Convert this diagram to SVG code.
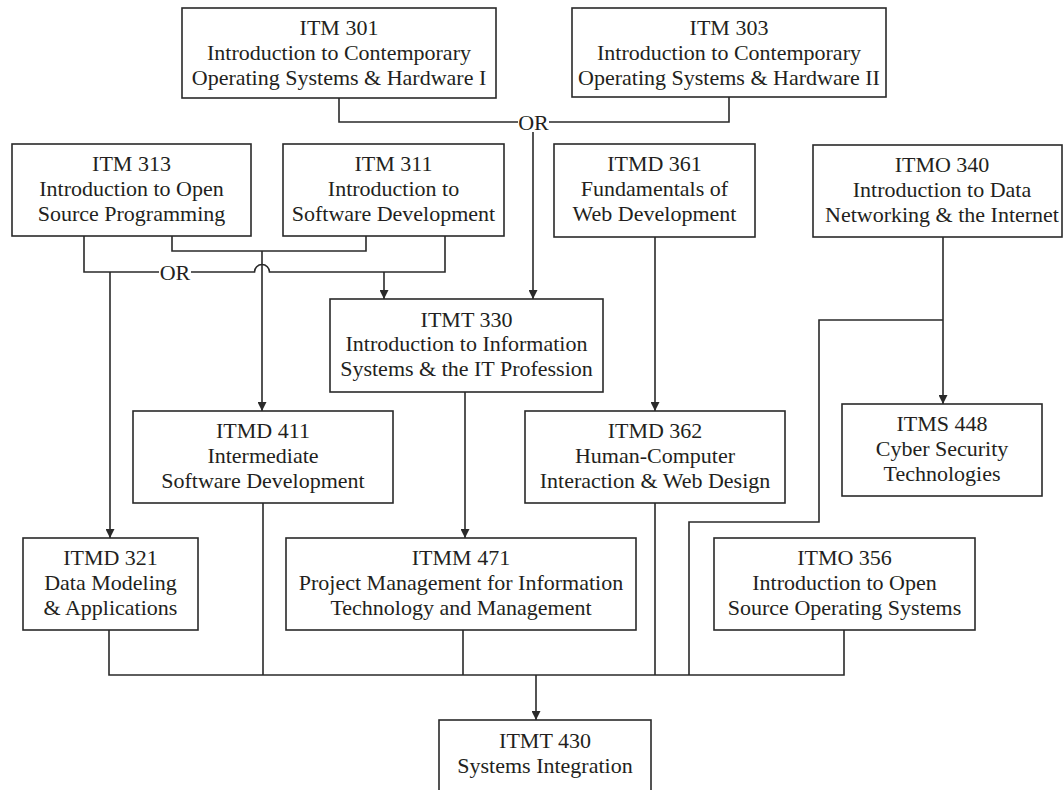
<svg xmlns="http://www.w3.org/2000/svg" width="1064" height="790" viewBox="0 0 1064 790">
<style>
.box{fill:#fff;stroke:#2a2a2a;stroke-width:1.6}
.t{font-family:"Liberation Serif","Times New Roman",serif;font-size:22px;fill:#231f20;text-anchor:middle}
.ln{fill:none;stroke:#2a2a2a;stroke-width:1.6}
</style>
<defs>
<marker id="ah" viewBox="0 0 10 10" refX="10" refY="5" markerWidth="9" markerHeight="9" markerUnits="userSpaceOnUse" orient="auto">
<path d="M0,0 L10,5 L0,10 z" fill="#2a2a2a"/>
</marker>
</defs>
<rect width="1064" height="790" fill="#fff"/>

<g id="connectors">
<path class="ln" d="M339,98 V122 H518 M549,122 H729 V97"/>
<path class="ln" d="M533,132 V299" marker-end="url(#ah)"/>
<path class="ln" d="M84,236 V272 H159 M191,272 H254.5 A7.5,7.5 0 0 1 269.5,272 H445 V236"/>
<path class="ln" d="M110,272 V538" marker-end="url(#ah)"/>
<path class="ln" d="M384,272 V299" marker-end="url(#ah)"/>
<path class="ln" d="M172,236 V251 H366 V236"/>
<path class="ln" d="M262,251 V411" marker-end="url(#ah)"/>
<path class="ln" d="M655,237 V411" marker-end="url(#ah)"/>
<path class="ln" d="M943,237 V404" marker-end="url(#ah)"/>
<path class="ln" d="M943,320 H819 V522 H689 V675"/>
<path class="ln" d="M465,392 V538" marker-end="url(#ah)"/>
<path class="ln" d="M109,630 V675 H844 V630 M263,496 V675 M463,630 V675 M655,503 V675"/>
<path class="ln" d="M536,675 V720" marker-end="url(#ah)"/>
<text class="t" x="533.5" y="130">OR</text>
<text class="t" x="175" y="280">OR</text>
</g>

<g id="itm301">
<rect class="box" x="182" y="8" width="314" height="90"/>
<text class="t" x="339" y="35">ITM 301</text>
<text class="t" x="339" y="60">Introduction to Contemporary</text>
<text class="t" x="339" y="85">Operating Systems &amp; Hardware I</text>
</g>
<g id="itm303">
<rect class="box" x="572" y="8" width="314" height="89"/>
<text class="t" x="729" y="35">ITM 303</text>
<text class="t" x="729" y="60">Introduction to Contemporary</text>
<text class="t" x="729" y="85">Operating Systems &amp; Hardware II</text>
</g>
<g id="itm313">
<rect class="box" x="12" y="144" width="239" height="92"/>
<text class="t" x="131.5" y="171">ITM 313</text>
<text class="t" x="131.5" y="196">Introduction to Open</text>
<text class="t" x="131.5" y="221">Source Programming</text>
</g>
<g id="itm311">
<rect class="box" x="283" y="144" width="221" height="92"/>
<text class="t" x="393.5" y="171">ITM 311</text>
<text class="t" x="393.5" y="196">Introduction to</text>
<text class="t" x="393.5" y="221">Software Development</text>
</g>
<g id="itmd361">
<rect class="box" x="554" y="144" width="201" height="93"/>
<text class="t" x="654.5" y="171">ITMD 361</text>
<text class="t" x="654.5" y="196">Fundamentals of</text>
<text class="t" x="654.5" y="221">Web Development</text>
</g>
<g id="itmo340">
<rect class="box" x="813" y="145" width="249" height="92"/>
<text class="t" x="942" y="172">ITMO 340</text>
<text class="t" x="942" y="197">Introduction to Data</text>
<text class="t" x="942" y="222">Networking &amp; the Internet</text>
</g>
<g id="itmt330">
<rect class="box" x="330" y="299" width="273" height="93"/>
<text class="t" x="466.5" y="327">ITMT 330</text>
<text class="t" x="466.5" y="351">Introduction to Information</text>
<text class="t" x="466.5" y="376">Systems &amp; the IT Profession</text>
</g>
<g id="itmd411">
<rect class="box" x="133" y="411" width="260" height="92"/>
<text class="t" x="263" y="438">ITMD 411</text>
<text class="t" x="263" y="463">Intermediate</text>
<text class="t" x="263" y="488">Software Development</text>
</g>
<g id="itmd362">
<rect class="box" x="525" y="411" width="260" height="92"/>
<text class="t" x="655" y="438">ITMD 362</text>
<text class="t" x="655" y="463">Human-Computer</text>
<text class="t" x="655" y="488">Interaction &amp; Web Design</text>
</g>
<g id="itms448">
<rect class="box" x="842" y="404" width="200" height="92"/>
<text class="t" x="942" y="431">ITMS 448</text>
<text class="t" x="942" y="456">Cyber Security</text>
<text class="t" x="942" y="481">Technologies</text>
</g>
<g id="itmd321">
<rect class="box" x="23" y="538" width="175" height="92"/>
<text class="t" x="110.5" y="565">ITMD 321</text>
<text class="t" x="110.5" y="590">Data Modeling</text>
<text class="t" x="110.5" y="615">&amp; Applications</text>
</g>
<g id="itmm471">
<rect class="box" x="286" y="538" width="350" height="92"/>
<text class="t" x="461" y="565">ITMM 471</text>
<text class="t" x="461" y="590">Project Management for Information</text>
<text class="t" x="461" y="615">Technology and Management</text>
</g>
<g id="itmo356">
<rect class="box" x="714" y="538" width="261" height="92"/>
<text class="t" x="844.5" y="565">ITMO 356</text>
<text class="t" x="844.5" y="590">Introduction to Open</text>
<text class="t" x="844.5" y="615">Source Operating Systems</text>
</g>
<g id="itmt430">
<rect class="box" x="439" y="720" width="212" height="92"/>
<text class="t" x="545" y="748">ITMT 430</text>
<text class="t" x="545" y="773">Systems Integration</text>
</g>
</svg>
